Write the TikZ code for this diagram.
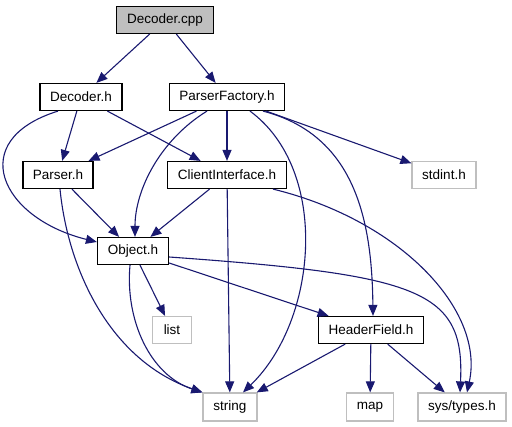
\documentclass[tikz,border=0pt]{standalone}
\usepackage{fontspec}
\setmainfont{Liberation Sans}
\usetikzlibrary{arrows.meta}
\definecolor{figedge}{HTML}{191970}
\definecolor{figextframe}{HTML}{BFBFBF}
\definecolor{figsrcfill}{HTML}{BFBFBF}
\tikzset{
  figbox/.style={draw=black, line width=1.2pt, minimum height=27pt, inner sep=0pt, text=black},
  figext/.style={figbox, draw=figextframe},
  figsrc/.style={figbox, fill=figsrcfill},
  incedge/.style={draw=figedge, line width=1.1pt, -{Triangle[length=11pt,width=9pt]}}
}

\begin{document}
\begin{tikzpicture}[x=1pt,y=-1pt,font=\fontsize{13.5}{16}\selectfont]
  \useasboundingbox (0,0) rectangle (512,427);
  % source file and included headers, rank by rank
  \node[figsrc,minimum width=97pt]  (dcpp)   at (165,20)  {Decoder.cpp};
  \node[figbox,minimum width=82pt]  (dech)   at (81,97)   {Decoder.h};
  \node[figbox,minimum width=115pt] (pfac)   at (227,97)  {ParserFactory.h};
  \node[figbox,minimum width=70pt]  (parh)   at (58,175)  {Parser.h};
  \node[figbox,minimum width=119pt] (cifh)   at (227,175) {ClientInterface.h};
  \node[figext,minimum width=64pt]  (stdint) at (444,175) {stdint.h};
  \node[figbox,minimum width=71pt]  (objh)   at (133,251) {Object.h};
  \node[figext,minimum width=39pt]  (listh)  at (172,330) {list};
  \node[figbox,minimum width=105pt] (hfld)   at (371,330) {HeaderField.h};
  \node[figext,minimum width=54pt,minimum height=28pt] (strh)  at (230,407) {string};
  \node[figext,minimum width=47pt,minimum height=28pt] (maph)  at (370,407) {map};
  \node[figext,minimum width=88pt,minimum height=28pt] (systy) at (462,407) {sys/types.h};
  % straight includes
  \foreach \a/\b in {dcpp/dech,dcpp/pfac,dech/parh,dech/cifh,pfac/parh,pfac/cifh,
                     pfac/stdint,parh/objh,cifh/objh,cifh/strh,objh/listh,objh/hfld,
                     hfld/strh,hfld/maph,hfld/systy} {
    \draw[incedge] (\a) -- (\b);
  }
  % curved includes
  \draw[incedge] ([xshift=-23pt]dech.south) .. controls (-35,140) and (0,218) .. ([yshift=9pt]objh.west);
  \draw[incedge] ([xshift=-20pt]pfac.south) .. controls (160,140) and (135,190) .. ([xshift=2pt]objh.north);
  \draw[incedge] ([xshift=23pt]pfac.south) .. controls (330,170) and (318,320) .. ([xshift=13pt]strh.north);
  \draw[incedge] ([xshift=36pt]pfac.south) .. controls (355,135) and (372,220) .. ([xshift=2pt]hfld.north);
  \draw[incedge] ([xshift=46pt]cifh.south) .. controls (400,220) and (485,310) .. ([xshift=5pt]systy.north);
  \draw[incedge] ([yshift=-6pt]objh.east) .. controls (420,275) and (465,290) .. ([xshift=-2pt]systy.north);
  \draw[incedge] ([xshift=2pt]parh.south) .. controls (68,270) and (110,360) .. (strh.north west);
  \draw[incedge] ([xshift=-3pt]objh.south) .. controls (125,320) and (150,375) .. (strh.north west);
\end{tikzpicture}
\end{document}
